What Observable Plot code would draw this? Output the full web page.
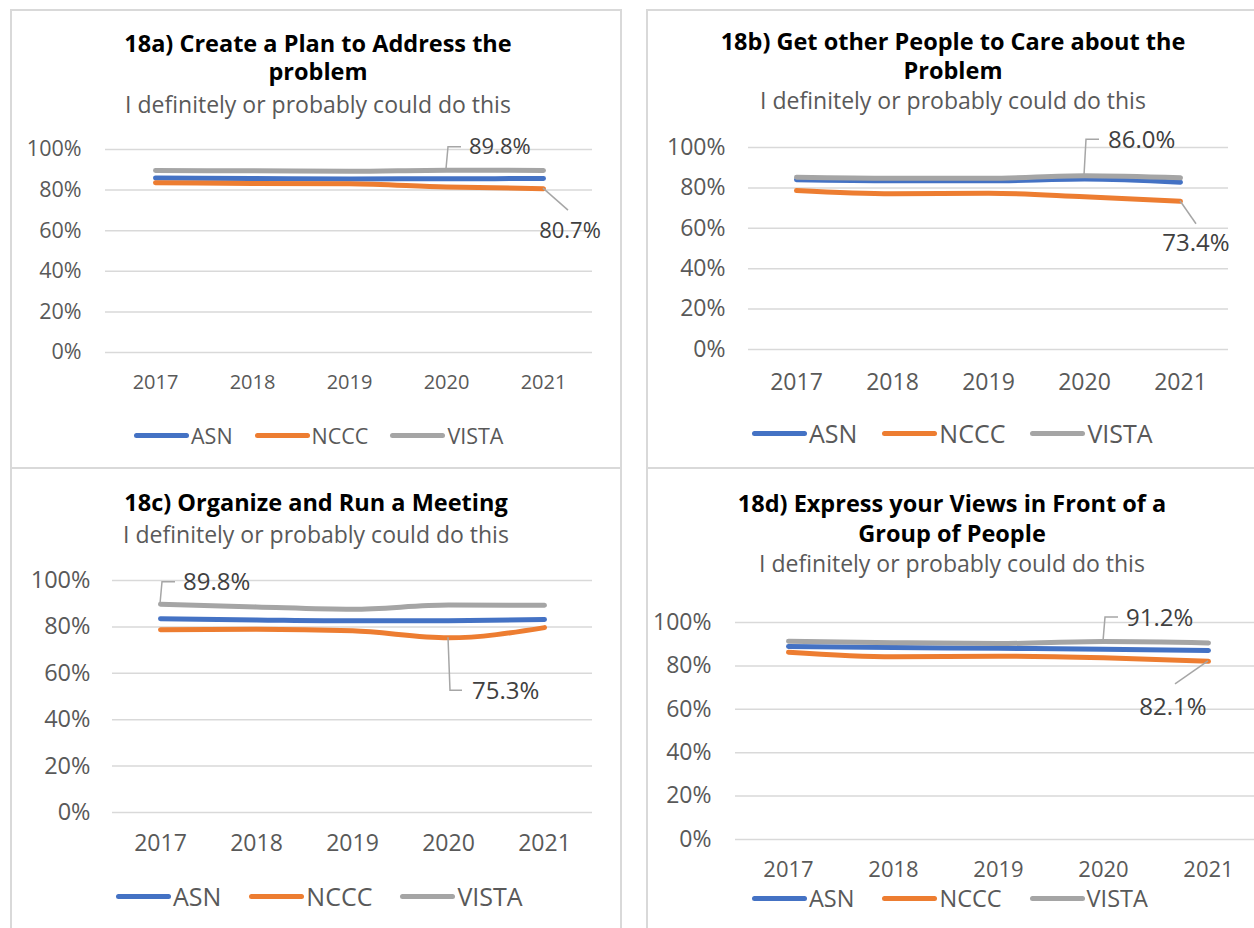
<!DOCTYPE html>
<html><head><meta charset="utf-8">
<script src="https://cdn.jsdelivr.net/npm/d3@7"></script>
<script src="https://cdn.jsdelivr.net/npm/@observablehq/plot@0.6"></script>
<style>
html,body{margin:0;padding:0;background:#fff;overflow:hidden}
#root{position:relative;width:1254px;height:928px;overflow:hidden;background:#fff;font-family:"Open Sans",Lato,sans-serif}
.panel{position:absolute;border:2px solid #d9d9d9;box-sizing:border-box}
.tl{position:absolute;left:0;white-space:nowrap;text-align:center;color:#000;font-weight:bold}
.sub{position:absolute;left:0;white-space:nowrap;text-align:center;color:#595959;font-weight:normal}
.chart{position:absolute}
.chart svg{max-width:none !important}
.legend{position:absolute;display:flex;align-items:center;color:#595959;white-space:nowrap}
.item{display:flex;align-items:center}
.sw{width:55px;height:5px;border-radius:3px;margin-right:2px}
</style>
</head><body><div id="root"></div>
<script>
// ---- data ----
const years = ["2017", "2018", "2019", "2020", "2021"];
const series = ["ASN", "NCCC", "VISTA"];
const colors = ["#4472c4", "#ed7d31", "#a5a5a5"];
const yTicks = [0, 0.2, 0.4, 0.6, 0.8, 1.0];
const subtitle = "I definitely or probably could do this";

const titleA = ["18a) Create a Plan to Address the", "problem"];
const asnA = [0.860, 0.857, 0.855, 0.856, 0.857];
const ncccA = [0.836, 0.833, 0.831, 0.815, 0.807];
const vistaA = [0.896, 0.895, 0.893, 0.898, 0.897];

const titleB = ["18b) Get other People to Care about the", "Problem"];
const asnB = [0.840, 0.835, 0.835, 0.844, 0.828];
const ncccB = [0.787, 0.771, 0.774, 0.756, 0.734];
const vistaB = [0.853, 0.848, 0.848, 0.860, 0.850];

const titleC = ["18c) Organize and Run a Meeting"];
const asnC = [0.835, 0.830, 0.826, 0.827, 0.832];
const ncccC = [0.788, 0.790, 0.783, 0.753, 0.797];
const vistaC = [0.898, 0.886, 0.876, 0.894, 0.893];

const titleD = ["18d) Express your Views in Front of a", "Group of People"];
const asnD = [0.889, 0.885, 0.881, 0.877, 0.871];
const ncccD = [0.863, 0.842, 0.845, 0.837, 0.821];
const vistaD = [0.914, 0.907, 0.903, 0.912, 0.906];

// ---- layout ----
const panels = [
  {box:[10,9,612,460], title:titleA, vals:[asnA,ncccA,vistaA], cx:318,
   titleY:43, lh:28.5, subY:104, tfs:23.5, sfs:23,
   svg:{left:10,top:120,width:611,height:300,mt:29,mr:29,mb:68,ml:95}, tickPadY:24, tickPadX:22, axisFsY:21.5, axisFsX:20, lblFs:22,
   callouts:[{s:2,i:3,pts:[[0,-1],[2,-23],[15,-23]],dx:23,dy:-23,anchor:"start"},
             {s:1,i:4,pts:[[0,0],[25,22]],dx:27,dy:42,anchor:"middle"}],
   legend:{left:134,cy:435,fs:21.5,gap:22}},
  {box:[646,9,620,460], title:titleB, vals:[asnB,ncccB,vistaB], cx:953,
   titleY:41, lh:29, subY:100, tfs:23.5, sfs:23,
   svg:{left:646,top:120,width:608,height:300,mt:27,mr:26,mb:71,ml:102}, tickPadY:23, tickPadX:24, axisFsY:23, axisFsX:23, lblFs:24,
   callouts:[{s:2,i:3,pts:[[0,0],[2,-36],[15,-36]],dx:24,dy:-36,anchor:"start"},
             {s:1,i:4,pts:[[0,0],[16,23]],dx:16,dy:42,anchor:"middle"}],
   legend:{left:752,cy:433,fs:25,gap:25}},
  {box:[10,467,612,470], title:titleC, vals:[asnC,ncccC,vistaC], cx:316,
   titleY:502, lh:29, subY:534, tfs:23.5, sfs:23,
   svg:{left:10,top:560,width:611,height:300,mt:20,mr:29,mb:48,ml:102}, tickPadY:22, tickPadX:22, axisFsY:23.5, axisFsX:23, lblFs:24,
   callouts:[{s:2,i:0,pts:[[0,0],[2,-22],[15,-22]],dx:23,dy:-22,anchor:"start"},
             {s:1,i:3,pts:[[0,0],[2,53],[14,53]],dx:24,dy:53,anchor:"start"}],
   legend:{left:116,cy:896,fs:25,gap:28}},
  {box:[646,467,620,470], title:titleD, vals:[asnD,ncccD,vistaD], cx:952,
   titleY:503, lh:30, subY:563, tfs:23.5, sfs:23,
   svg:{left:646,top:590,width:620,height:300,mt:32,mr:6,mb:51,ml:89}, tickPadY:24, tickPadX:22, axisFsY:23, axisFsX:22, lblFs:24,
   callouts:[{s:2,i:3,pts:[[0,0],[2,-24],[15,-24]],dx:23,dy:-23,anchor:"start"},
             {s:1,i:4,pts:[[0,0],[-33,23]],dx:-35,dy:46,anchor:"middle"}],
   legend:{left:752,cy:898,fs:23.5,gap:28}}
];

const root = document.getElementById("root");

function calloutMark(rows, c, fs) {
  return (index, scales) => {
    const r = rows.find(d => d.series === series[c.s] && d.year === years[c.i]);
    const px = scales.x(r.year), py = scales.y(r.value);
    const g = d3.create("svg:g");
    g.append("path")
      .attr("d", d3.line()(c.pts.map(([dx, dy]) => [px + dx, py + dy])))
      .attr("fill", "none").attr("stroke", "#a6a6a6").attr("stroke-width", 1.5);
    g.append("text")
      .attr("x", px + c.dx).attr("y", py + c.dy).attr("dy", "0.35em")
      .attr("text-anchor", c.anchor)
      .attr("fill", "#404040").attr("font-size", fs)
      .text((r.value * 100).toFixed(1) + "%");
    return g.node();
  };
}

panels.forEach(p => {
  const box = document.createElement("div");
  box.className = "panel";
  Object.assign(box.style, {left: p.box[0] + "px", top: p.box[1] + "px", width: p.box[2] + "px", height: p.box[3] + "px"});
  root.appendChild(box);

  const t = document.createElement("div");
  t.className = "tl";
  p.title.forEach((line, k) => {
    if (k > 0) t.appendChild(document.createElement("br"));
    t.appendChild(document.createTextNode(line));
  });
  Object.assign(t.style, {left: (p.cx - 400) + "px", width: "800px", top: (p.titleY - p.lh / 2) + "px", fontSize: p.tfs + "px", lineHeight: p.lh + "px"});
  root.appendChild(t);

  const s = document.createElement("div");
  s.className = "sub";
  s.textContent = subtitle;
  Object.assign(s.style, {left: (p.cx - 400) + "px", width: "800px", top: (p.subY - 14) + "px", fontSize: p.sfs + "px", lineHeight: "28px"});
  root.appendChild(s);

  const rows = [];
  series.forEach((name, si) => years.forEach((y, yi) => rows.push({series: name, year: y, value: p.vals[si][yi]})));

  const g = p.svg;
  const plot = Plot.plot({
    width: g.width, height: g.height,
    marginTop: g.mt, marginRight: g.mr, marginBottom: g.mb, marginLeft: g.ml,
    x: {type: "point", domain: years, padding: 0.5, axis: null},
    y: {domain: [0, 1], axis: null},
    color: {domain: series, range: colors},
    style: {background: "transparent", color: "#595959", fontFamily: "'Open Sans', Lato, sans-serif", overflow: "visible", maxWidth: "none"},
    marks: [
      Plot.ruleY(yTicks, {stroke: "#d9d9d9", strokeWidth: 1.5}),
      Plot.axisY(yTicks, {tickSize: 0, tickPadding: p.tickPadY, label: null,
        tickFormat: d => Math.round(d * 100) + "%", fontSize: p.axisFsY}),
      Plot.axisX({tickSize: 0, tickPadding: p.tickPadX, label: null, fontSize: p.axisFsX}),
      Plot.line(rows, {x: "year", y: "value", z: "series", stroke: "series", strokeWidth: 5,
        strokeLinecap: "round", strokeLinejoin: "round", curve: "monotone-x"}),
      ...p.callouts.map(c => calloutMark(rows, c, p.lblFs))
    ]
  });
  plot.style.maxWidth = "none";
  const wrap = document.createElement("div");
  wrap.className = "chart";
  Object.assign(wrap.style, {left: g.left + "px", top: g.top + "px", width: g.width + "px", height: g.height + "px"});
  wrap.appendChild(plot);
  root.appendChild(wrap);

  const lg = document.createElement("div");
  lg.className = "legend";
  Object.assign(lg.style, {left: p.legend.left + "px", top: (p.legend.cy - 13) + "px", height: "26px", fontSize: p.legend.fs + "px", gap: p.legend.gap + "px"});
  series.forEach((name, i) => {
    const it = document.createElement("div");
    it.className = "item";
    const sw = document.createElement("div");
    sw.className = "sw";
    sw.style.background = colors[i];
    const tx = document.createElement("span");
    tx.textContent = name;
    it.appendChild(sw); it.appendChild(tx);
    lg.appendChild(it);
  });
  root.appendChild(lg);
});
</script>
</body></html>
